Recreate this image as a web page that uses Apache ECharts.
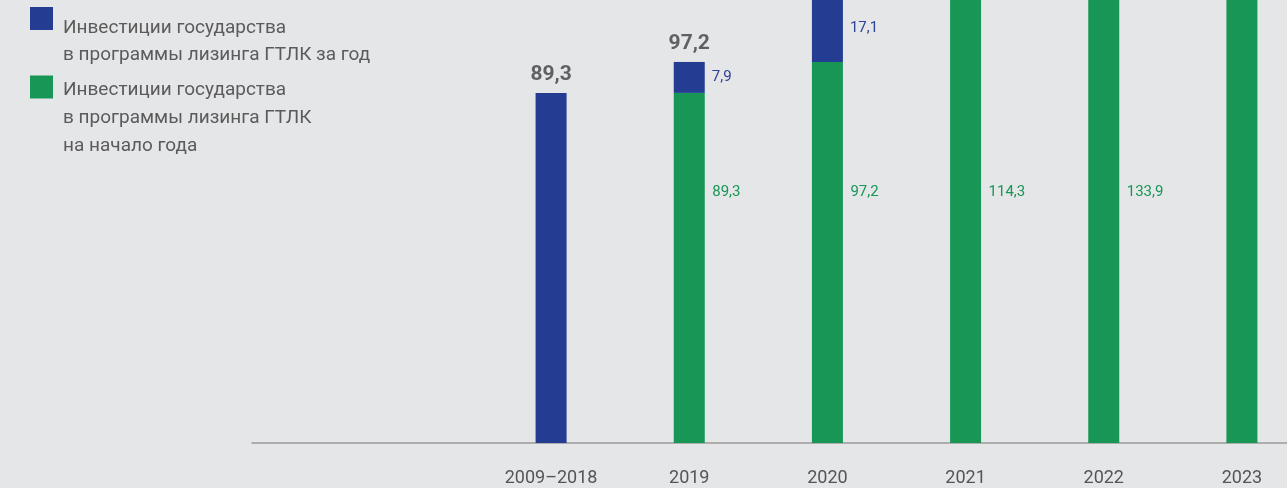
<!DOCTYPE html>
<html>
<head>
<meta charset="utf-8">
<script src="https://cdn.jsdelivr.net/npm/echarts@6/dist/echarts.min.js"></script>
<style>
  html, body { margin: 0; padding: 0; background: #e5e6e8; }
  #chart { width: 1287px; height: 488px; }
</style>
</head>
<body>
<div id="chart"></div>
<script>
// категории и значения (млрд руб.)
const years = ['2009–2018', '2019', '2020', '2021', '2022', '2023']
// на начало года (зелёный)
const startOfYear = [null, 89.3, 97.2, 114.3, 133.9, 152.0]
// за год (синий); верх 2021–2023 обрезан, значения оценочные
const perYear = [89.3, 7.9, 17.1, 19.6, 18.1, null]

const seriesNames = [
  'Инвестиции государства\nв программы лизинга ГТЛК за год',
  'Инвестиции государства\nв программы лизинга ГТЛК\nна начало года'
]

const BLUE = '#243d92'
const GREEN = '#179656'
const fmt = (v) => Number(v).toFixed(1).replace('.', ',')

const totals = years.map((_, i) => {
  const s = (startOfYear[i] || 0) + (perYear[i] || 0)
  return s ? +s.toFixed(1) : null
})

const chart = echarts.init(document.getElementById('chart'))

// подпись легенды: пустая строка-отступ сверху, чтобы квадрат стоял у первой строки
const legendItem = (top, spacer, lh) => ({
  left: 25,
  top: top,
  orient: 'vertical',
  itemWidth: 23,
  itemHeight: 23,
  itemGap: 0,
  icon: 'rect',
  selectedMode: false,
  formatter: (name) =>
    '{s| }\n' + name.split('\n').map((l) => '{t|' + l + '}').join('\n'),
  textStyle: {
    padding: [0, 0, 0, 5],
    rich: {
      s: { lineHeight: spacer, fontSize: 1 },
      t: { color: '#5b5b5b', fontSize: 19, fontFamily: 'Roboto', lineHeight: lh }
    }
  }
})

const option = {
  backgroundColor: '#e5e6e8',
  animation: false,
  legend: [
    Object.assign(legendItem(-14, 46, 27), { data: [seriesNames[0]] }),
    Object.assign(legendItem(39.5, 63, 28), { data: [seriesNames[1]] })
  ],
  grid: [
    // основная область: верх столбцов уходит за пределы кадра
    { left: 482, right: -24, bottom: 45, top: 0, outerBoundsMode: 'none' },
    // только линия оси
    { left: 252, right: 0, bottom: 45, height: 1, outerBoundsMode: 'none' }
  ],
  xAxis: [
    {
      type: 'category',
      gridIndex: 0,
      data: years,
      axisLine: { show: false },
      axisTick: { show: false },
      axisLabel: {
        color: '#555',
        fontSize: 18,
        fontFamily: 'Roboto',
        margin: 26
      }
    },
    {
      type: 'value',
      gridIndex: 1,
      axisLine: { show: true, lineStyle: { color: '#9a9a9a', width: 1.5 } },
      axisTick: { show: false },
      axisLabel: { show: false },
      splitLine: { show: false }
    }
  ],
  yAxis: [
    { type: 'value', gridIndex: 0, min: 0, max: 113, show: false },
    { type: 'value', gridIndex: 1, show: false }
  ],
  series: [
    {
      name: seriesNames[1],
      type: 'bar',
      stack: 'total',
      barWidth: 31,
      clip: false,
      itemStyle: { color: GREEN },
      data: startOfYear.map((v, i) =>
        i === years.length - 1 ? { value: v, label: { show: false } } : v
      ),
      label: {
        show: true,
        position: 'insideBottom',
        distance: 0,
        align: 'left',
        verticalAlign: 'middle',
        offset: [23, -251],
        color: GREEN,
        fontSize: 15,
        fontFamily: 'Roboto',
        formatter: (p) => fmt(p.value)
      }
    },
    {
      name: seriesNames[0],
      type: 'bar',
      stack: 'total',
      barWidth: 31,
      clip: false,
      itemStyle: { color: BLUE },
      data: perYear,
      label: {
        show: true,
        position: 'right',
        distance: 7,
        color: '#2e4396',
        fontSize: 15,
        fontFamily: 'Roboto',
        formatter: (p) => (startOfYear[p.dataIndex] == null ? '' : fmt(p.value))
      }
    },
    {
      name: 'total',
      type: 'scatter',
      symbolSize: 0,
      clip: false,
      data: totals,
      label: {
        show: true,
        position: 'top',
        distance: 8,
        color: '#3f3f3f',
        fontSize: 21,
        fontWeight: 'bold',
        fontFamily: 'Roboto',
        lineHeight: 21,
        formatter: (p) => fmt(p.value)
      }
    }
  ]
}

chart.setOption(option)
</script>
</body>
</html>
